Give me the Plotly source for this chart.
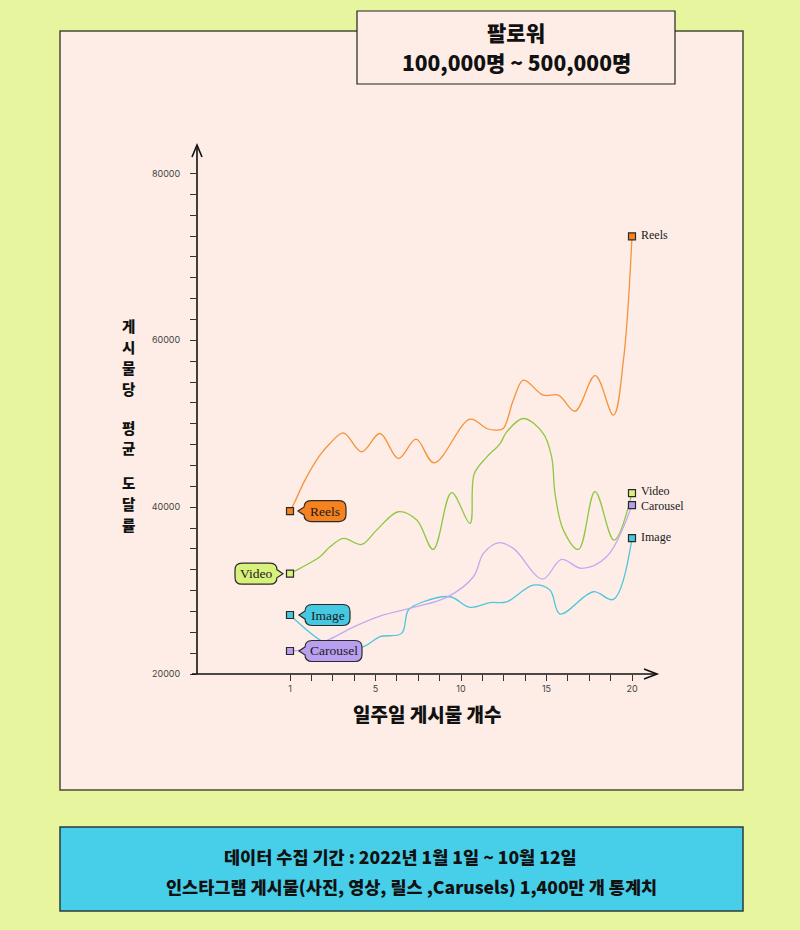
import plotly.graph_objects as go

# x positions are tick slots on the axis (17 evenly spaced ticks), labelled 1, 5, 10, 15, 20
tick_positions = list(range(17))
tick_labels = ["1", "", "", "", "5", "", "", "", "10", "", "", "", "15", "", "", "", "20"]

y_tickvals = list(range(20000, 80001, 2500))
y_ticktext = [str(v) if v % 20000 == 0 else "" for v in y_tickvals]

reels_x = [0, 0.2, 0.7, 1.4, 1.87, 2.5, 3.35, 4.21, 5.07, 5.9, 6.74, 8.42, 9.2, 9.67,
           9.98, 10.45, 10.92, 11.85, 12.56, 13.33, 14.28, 15.13, 15.6, 16]
reels_y = [39530, 40500, 43240, 46240, 47640, 48910, 46640, 48830, 45830, 48150, 45310,
           50550, 49430, 49230, 49430, 52840, 55220, 53420, 53420, 51500, 55760, 51030,
           57620, 72470]

video_x = [0, 0.47, 1.4, 1.87, 2.5, 3.35, 4.05, 5.07, 5.93, 6.7, 7.56, 8.42, 8.62, 9.2,
           9.82, 10.14, 10.92, 11.85, 12.24, 12.4, 12.79, 13.5, 14.27, 15.16, 16]
video_y = [32030, 32670, 34050, 35250, 36250, 35530, 37250, 39450, 38450, 34940, 41740,
           38050, 44000, 46000, 47600, 49030, 50630, 48830, 46030, 41630, 37250, 34940,
           41870, 36050, 41680]

carousel_x = [0, 0.55, 1.87, 2.96, 4.21, 5.77, 7.33, 8.58, 9.05, 9.75, 10.45, 11.82,
              12.7, 13.64, 14.81, 16]
carousel_y = [22760, 22880, 24190, 25630, 26950, 27990, 29190, 31660, 34460, 35730,
              35060, 31380, 33740, 32660, 34050, 40250]

image_x = [0, 1.4, 2.4, 3.5, 4.21, 5.22, 5.54, 6.24, 7.49, 8.42, 9.36, 10.14, 11.38,
           12.16, 12.63, 14.19, 15.13, 16]
image_y = [27070, 24070, 22900, 23350, 24470, 24870, 27670, 28660, 29260, 27990, 28550,
           28660, 30660, 30060, 27190, 29860, 28940, 36300]

# y axis title, written one upright character per line
y_title_chars = ["게", "시", "물", "당", "평", "균", "도", "달", "률"]

series = [
    # name, x, y, line colour, fill colour, callout box (left, right) in px from marker, end label shift
    ("Reels", reels_x, reels_y, "#f6923a", "#f5821f", (14, 56), 1),
    ("Video", video_x, video_y, "#8cc844", "#d8f07c", (-55, -13), 2),
    ("Image", image_x, image_y, "#4fc6dd", "#45c9e2", (15, 60), 1),
    ("Carousel", carousel_x, carousel_y, "#c5a8f3", "#b99ff0", (15, 72), -1),
]

# plot area in page pixels
L, R, T, B = 197, 657, 145, 674
W, H = 800, 930


def px(x):
    return (x - L) / (R - L)


def py(y):
    return (B - y) / (B - T)


def callout_path(x0, x1, h=21, r=7, notch=4):
    top, bot = h / 2, -h / 2
    sgn = 1 if x0 > 0 else -1
    base, far = (x0, x1) if x0 > 0 else (x1, x0)
    tip = base - sgn * 6
    p = "M %s,0 L %s,%s " % (tip, base, notch)
    p += "L %s,%s Q %s,%s %s,%s " % (base, top - r, base, top, base + sgn * r, top)
    p += "L %s,%s Q %s,%s %s,%s " % (far - sgn * r, top, far, top, far, top - r)
    p += "L %s,%s Q %s,%s %s,%s " % (far, bot + r, far, bot, far - sgn * r, bot)
    p += "L %s,%s Q %s,%s %s,%s " % (base + sgn * r, bot, base, bot, base, bot + r)
    p += "L %s,%s Z" % (base, -notch)
    return p


fig = go.Figure()

for name, xs, ys, lc, fc, box, sh in series:
    fig.add_trace(go.Scatter(
        x=xs, y=ys, mode="lines", name=name,
        line=dict(color=lc, width=1.3, shape="spline", smoothing=1.0),
        hoverinfo="skip",
    ))

shapes = []
annotations = []

# page furniture: main panel, title box, footer box
shapes += [
    dict(type="rect", xref="paper", yref="paper", x0=px(60), x1=px(743), y0=py(790), y1=py(31),
         fillcolor="#fdede6", line=dict(color="#4a4a3a", width=1.5), layer="below"),
    dict(type="rect", xref="paper", yref="paper", x0=px(357), x1=px(675), y0=py(84), y1=py(11),
         fillcolor="#fdede6", line=dict(color="#222", width=1.2), layer="below"),
    dict(type="rect", xref="paper", yref="paper", x0=px(60), x1=px(743), y0=py(911), y1=py(827),
         fillcolor="#47cfe9", line=dict(color="#2d3b3b", width=1.5), layer="below"),
]

# axes with open arrow heads
ax_col = "#111"
shapes += [
    dict(type="line", xref="paper", yref="paper", x0=px(192), x1=1, y0=0, y1=0,
         line=dict(color=ax_col, width=1.6)),
    dict(type="line", xref="paper", yref="paper", x0=0, x1=0, y0=0, y1=1,
         line=dict(color=ax_col, width=1.6)),
    dict(type="path", xref="paper", yref="paper",
         path="M %f,%f L 0,1 L %f,%f" % (px(L - 5), py(T + 12), px(L + 5), py(T + 12)),
         line=dict(color=ax_col, width=1.6)),
    dict(type="path", xref="paper", yref="paper",
         path="M %f,%f L 1,0 L %f,%f" % (px(R - 13), py(B - 5), px(R - 13), py(B + 5)),
         line=dict(color=ax_col, width=1.6)),
]

for name, xs, ys, lc, fc, box, sh in series:
    shapes.append(dict(
        type="path", xref="x", yref="y", xsizemode="pixel", ysizemode="pixel",
        xanchor=xs[0], yanchor=ys[0], path=callout_path(box[0], box[1]),
        fillcolor=fc, line=dict(color="#2a2a2a", width=1.2),
    ))
    annotations.append(dict(
        x=xs[0], y=ys[0], xref="x", yref="y", text=name, showarrow=False,
        xanchor="center", yanchor="middle",
        xshift=(box[0] + box[1]) / 2, yshift=0,
        font=dict(family="Liberation Serif", size=13.5, color="#1a1a1a"),
    ))
    annotations.append(dict(
        x=xs[-1], y=ys[-1], xref="x", yref="y", text=name, showarrow=False,
        xanchor="left", yanchor="middle", xshift=7, yshift=sh,
        font=dict(family="Liberation Serif", size=12, color="#1a1a1a"),
    ))

for name, xs, ys, lc, fc, box, sh in series:
    fig.add_trace(go.Scatter(
        x=[xs[0], xs[-1]], y=[ys[0], ys[-1]], mode="markers", name=name,
        marker=dict(symbol="square", size=7, color=fc, line=dict(color="#2a2a2a", width=1.2)),
        hoverinfo="skip",
    ))

kfont = "Noto Sans CJK KR"


def ktext(x, y, text, size):
    return dict(x=px(x), y=py(y), xref="paper", yref="paper", text=text, showarrow=False,
                xanchor="center", yanchor="middle",
                font=dict(family=kfont, size=size, color="#111", weight=900))


annotations += [
    ktext(516, 32, "팔로워", 21),
    ktext(516, 62, "100,000명 ~ 500,000명", 21),
    ktext(427, 713, "일주일 게시물 개수", 19),
    ktext(400, 856, "데이터 수집 기간 : 2022년 1월 1일 ~ 10월 12일", 17.5),
    ktext(411, 886, "인스타그램 게시물(사진, 영상, 릴스 ,Carusels) 1,400만 개 통계치", 17.5),
]

# stacked y title: 20 px per character, a wider gap where the words break
y_title_rows = [325, 346, 367, 388, 427, 448, 482, 503, 524]
for ch, row in zip(y_title_chars, y_title_rows):
    annotations.append(ktext(128, row, ch, 14.5))

fig.update_layout(
    width=W, height=H,
    margin=dict(l=L, r=W - R, t=T, b=H - B, pad=0),
    paper_bgcolor="#e6f59e",
    plot_bgcolor="rgba(0,0,0,0)",
    showlegend=False,
    shapes=shapes,
    annotations=annotations,
    xaxis=dict(
        range=[(L - 290) / 21.375, (R - 290) / 21.375],
        tickmode="array", tickvals=tick_positions, ticktext=tick_labels,
        ticks="outside", ticklen=6, tickwidth=1.2, tickcolor="#333",
        showgrid=False, zeroline=False, showline=False,
        tickfont=dict(family="Inter", size=9, color="#444"),
        fixedrange=True,
    ),
    yaxis=dict(
        range=[20000, 20000 + (B - T) * 60000 / (674 - 173.5)],
        tickmode="array", tickvals=y_tickvals, ticktext=y_ticktext,
        ticks="outside", ticklen=6, tickwidth=1.2, tickcolor="#333",
        showgrid=False, zeroline=False, showline=False,
        tickfont=dict(family="Inter", size=9, color="#444"),
        ticklabelstandoff=8,
        fixedrange=True,
    ),
)

# the page gets no body margin so the figure fills the window edge to edge
fig.write_html("out.html", config={"displayModeBar": False},
               post_script="document.body.style.margin='0';")
